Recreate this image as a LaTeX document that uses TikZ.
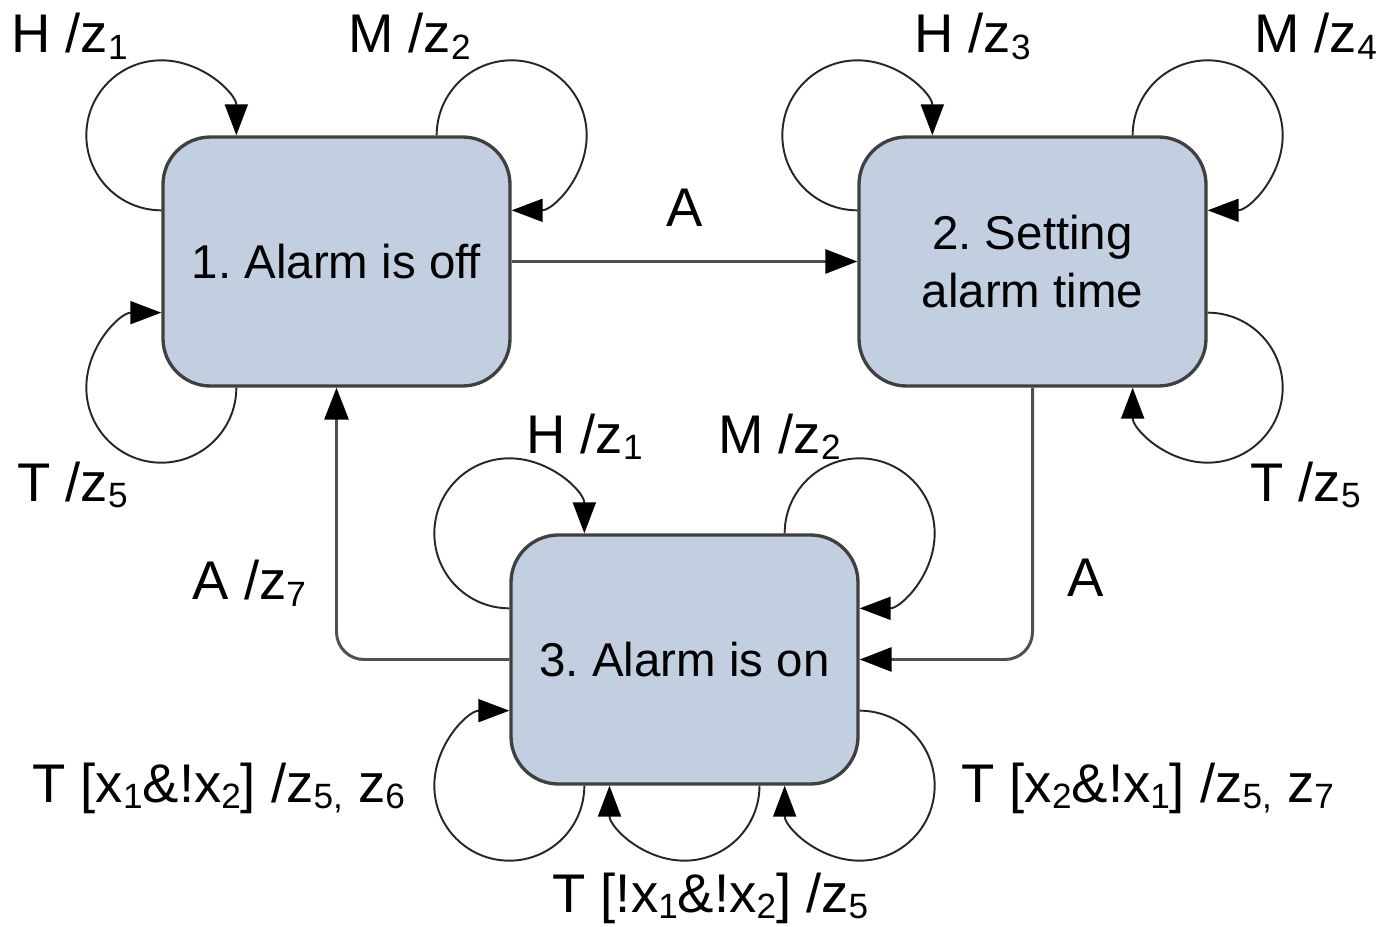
\documentclass[tikz,border=0pt]{standalone}
\usepackage{fontspec}
\setmainfont{Liberation Sans}
\usetikzlibrary{arrows.meta, positioning}
\definecolor{statefill}{RGB}{193,207,225}
\definecolor{stateline}{RGB}{64,64,64}
\definecolor{linkline}{RGB}{80,80,80}
\newcommand{\subs}[1]{\raisebox{-3.6pt}{\fontsize{20}{20}\selectfont #1}}
\frenchspacing

\begin{document}
\begin{tikzpicture}[
  state/.style={rectangle, rounded corners=0.95cm, draw=stateline, line width=1.9pt, fill=statefill, minimum width=6.94cm, minimum height=4.98cm, align=center, font=\fontsize{27}{33}\selectfont},
  link/.style={draw=linkline, line width=1.7pt, -{Triangle[length=0.64cm, width=0.48cm, color=black]}, rounded corners=0.55cm},
  loopline/.style={draw=black!85, line width=1.1pt, -{Triangle[length=0.62cm, width=0.46cm, color=black]}},
  lbl/.style={anchor=base west, inner sep=0pt, font=\fontsize{31}{37}\selectfont},
  edgelbl/.style={inner sep=0pt, font=\fontsize{31}{37}\selectfont}
]
\useasboundingbox (0,0) rectangle (27.74,18.52);

% states
\node[state] (S1) at (6.73, 13.29) {1. Alarm is off};
\node[state] (S2) at (20.65, 13.29) {2. Setting\\alarm time};
\node[state] (S3) at (13.69, 5.33) {3. Alarm is on};

% transitions between states
\draw[link] (S1.east) -- node[midway, above=0.68cm, edgelbl] (a12) {A} (S2.west);
\draw[link] (S2.south) |- node[pos=0.35, right=0.66cm, edgelbl] (a23) {A} (S3.east);
\draw[link] (S3.west) -| node[pos=0.64, left=0.58cm, edgelbl] (a31) {A /z\subs{7}} (S1.south);

% self loops, state 1
\draw[loopline] ([yshift=-1.5cm]S1.north west) arc[start angle=-90, end angle=-360, radius=1.5cm];
\draw[loopline] ([xshift=-1.5cm]S1.north east) arc[start angle=180, end angle=-90, radius=1.5cm];
\draw[loopline] ([xshift=1.5cm]S1.south west) arc[start angle=0, end angle=-270, radius=1.5cm];
% self loops, state 2
\draw[loopline] ([yshift=-1.5cm]S2.north west) arc[start angle=-90, end angle=-360, radius=1.5cm];
\draw[loopline] ([xshift=-1.5cm]S2.north east) arc[start angle=180, end angle=-90, radius=1.5cm];
\draw[loopline] ([yshift=1.5cm]S2.south east) arc[start angle=90, end angle=-180, radius=1.5cm];
% self loops, state 3
\draw[loopline] ([yshift=-1.5cm]S3.north west) arc[start angle=-90, end angle=-360, radius=1.5cm];
\draw[loopline] ([xshift=-1.5cm]S3.north east) arc[start angle=180, end angle=-90, radius=1.5cm];
\draw[loopline] ([xshift=1.5cm]S3.south west) arc[start angle=0, end angle=-270, radius=1.5cm];
\draw[loopline] ([xshift=1.5cm]S3.south) arc[start angle=0, end angle=-180, radius=1.5cm];
\draw[loopline] ([yshift=1.5cm]S3.south east) arc[start angle=90, end angle=-180, radius=1.5cm];

% loop labels
\node[lbl] (L1h) at (0.22, 17.46) {H /z\subs{1}};
\node[lbl] (L1m) at (6.96, 17.46) {M /z\subs{2}};
\node[lbl] (L1t) at (0.34, 8.50) {T /z\subs{5}};
\node[lbl] (L2h) at (18.28, 17.46) {H /z\subs{3}};
\node[lbl] (L2m) at (25.08, 17.46) {M /z\subs{4}};
\node[lbl] (L2t) at (25.00, 8.50) {T /z\subs{5}};
\node[lbl] (L3h) at (10.52, 9.46) {H /z\subs{1}};
\node[lbl] (L3m) at (14.36, 9.46) {M /z\subs{2}};
\node[lbl] (L3a) at (0.64, 2.48) {T [x\subs{1}\&!x\subs{2}] /z\subs{5,} z\subs{6}};
\node[lbl] (L3b) at (19.22, 2.48) {T [x\subs{2}\&!x\subs{1}] /z\subs{5,} z\subs{7}};
\node[lbl] (L3c) at (11.04, 0.28) {T [!x\subs{1}\&!x\subs{2}] /z\subs{5}};

\end{tikzpicture}
\end{document}
